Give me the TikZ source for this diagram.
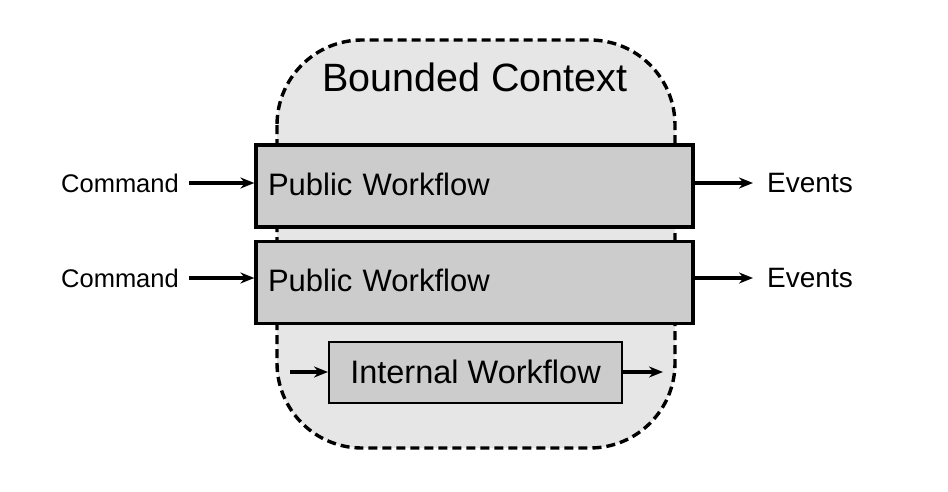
\documentclass[tikz,border=0pt]{standalone}
\usepackage{fontspec}
\setmainfont{Liberation Sans}
\usetikzlibrary{arrows.meta}
\definecolor{ctxfill}{HTML}{E6E6E6}
\definecolor{boxfill}{HTML}{CCCCCC}
\begin{document}
\begin{tikzpicture}[x=1pt,y=-1pt,
  ctx/.style={draw=black,fill=ctxfill,line width=3.4pt,dash pattern=on 9pt off 5pt,rounded corners=85pt},
  pubbox/.style={draw=black,fill=boxfill,line width=3.2pt,minimum height=82pt,text width=413pt,inner xsep=12pt,align=left,font=\fontsize{31}{36}\selectfont},
  intbox/.style={draw=black,fill=boxfill,line width=2pt,minimum width=293pt,minimum height=61pt,font=\fontsize{32.5}{36}\selectfont},
  lbl/.style={inner sep=0pt,font=\fontsize{25.5}{32}\selectfont},
  evlbl/.style={inner sep=0pt,font=\fontsize{28}{32}\selectfont},
  title/.style={inner sep=0pt,font=\fontsize{39.5}{44}\selectfont},
  arr/.style={line width=3.6pt,-{Stealth[length=14pt,width=11pt]}}]
\useasboundingbox (0,0) rectangle (948,491);
\path[ctx] (277,40) rectangle (675,448);
\node[title] (bc) at (475,77) {Bounded Context};
\node[pubbox] (pub1) at (474.5,186) {\raisebox{4pt}{Public Workflow}};
\node[pubbox] (pub2) at (474.5,282.5) {\raisebox{5pt}{Public Workflow}};
\node[intbox] (int) at (475.5,372.5) {\raisebox{1pt}{Internal Workflow}};
\node[lbl,anchor=east] (cmd1) at (179,183) {Command};
\node[lbl,anchor=east] (cmd2) at (179,278) {Command};
\node[evlbl,anchor=west] (ev1) at (767,183) {Events};
\node[evlbl,anchor=west] (ev2) at (767,278) {Events};
\coordinate (inA) at (290,372);
\coordinate (outA) at (663,372);
\draw[arr,shorten <=10pt] (cmd1.east) -- (cmd1.east -| pub1.west);
\draw[arr,shorten <=10pt] (cmd2.east) -- (cmd2.east -| pub2.west);
\draw[arr,shorten >=14pt] (ev1.west -| pub1.east) -- (ev1.west);
\draw[arr,shorten >=14pt] (ev2.west -| pub2.east) -- (ev2.west);
\draw[arr] (inA) -- (inA -| int.west);
\draw[arr] (int.east |- outA) -- (outA);
\end{tikzpicture}
\end{document}
